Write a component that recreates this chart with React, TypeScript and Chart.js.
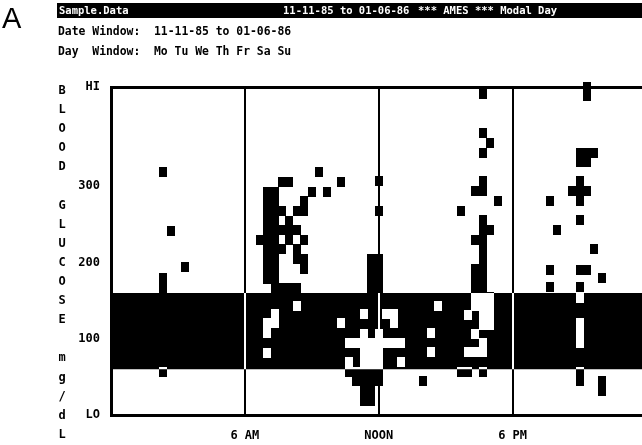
import React, { useEffect, useRef } from "react";
import { Chart, registerables } from "chart.js";

Chart.register(...registerables);

// ---- data ----
const hourTicks = [6, 12, 18];
const hourTickLabels = ["6 AM", "NOON", "6 PM"];
const glucoseTicks = [0, 100, 200, 300, 430];
const glucoseTickLabels = ["LO", "100", "200", "300", "HI"];
const hourMin = 0;
const hourMax = 23.8;
const glucoseMin = 0;
const glucoseMax = 430;

const targetHours = [0, 24];
const targetLow = 60;
const targetHigh = 160;

const axisTitleLetters = ["B", "L", "O", "O", "D", "", "G", "L", "U", "C", "O", "S", "E", "", "m", "g", "/", "d", "L"];

const headerLeft = "Sample.Data";
const headerDates = "11-11-85 to 01-06-86";
const headerRight = "*** AMES *** Modal Day";
const dateWindowLine = "Date Window:  11-11-85 to 01-06-86";
const dayWindowLine = "Day  Window:  Mo Tu We Th Fr Sa Su";

// readings: [hour of day, mg/dL]
const readings: [number, number][] = [
  [2.33, 318], [2.33, 179], [2.33, 167], [2.33, 56],
  [2.67, 241],
  [3.33, 194],
  [6.67, 229],
  [7.0, 292], [7.0, 280], [7.0, 267], [7.0, 254], [7.0, 242], [7.0, 229], [7.0, 217], [7.0, 204], [7.0, 192], [7.0, 178],
  [7.0, 120], [7.0, 107], [7.0, 81],
  [7.33, 292], [7.33, 280], [7.33, 267], [7.33, 254], [7.33, 242], [7.33, 229], [7.33, 217], [7.33, 204], [7.33, 192], [7.33, 178], [7.33, 166],
  [7.33, 132], [7.33, 120],
  [7.67, 305], [7.67, 267], [7.67, 242], [7.67, 217], [7.67, 166],
  [8.0, 305], [8.0, 254], [8.0, 242], [8.0, 229], [8.0, 166],
  [8.33, 267], [8.33, 242], [8.33, 217], [8.33, 204], [8.33, 166], [8.33, 143],
  [8.67, 280], [8.67, 267], [8.67, 229], [8.67, 204], [8.67, 192],
  [9.0, 292],
  [9.33, 318],
  [9.67, 292],
  [10.33, 305], [10.33, 120],
  [10.67, 94], [10.67, 70], [10.67, 56],
  [11.0, 94], [11.0, 56], [11.0, 45],
  [11.33, 132], [11.33, 106], [11.33, 94], [11.33, 82], [11.33, 70], [11.33, 56], [11.33, 45], [11.33, 32], [11.33, 19],
  [11.67, 204], [11.67, 192], [11.67, 178], [11.67, 166], [11.67, 94], [11.67, 82], [11.67, 70], [11.67, 56], [11.67, 45], [11.67, 32], [11.67, 19],
  [12.0, 307], [12.0, 268], [12.0, 204], [12.0, 192], [12.0, 178], [12.0, 166], [12.0, 106], [12.0, 94], [12.0, 82], [12.0, 70], [12.0, 56], [12.0, 45],
  [12.33, 132], [12.33, 94],
  [12.67, 132], [12.67, 120], [12.67, 94],
  [13.0, 94], [13.0, 70],
  [14.0, 45],
  [14.33, 108], [14.33, 83],
  [14.67, 143],
  [15.67, 268], [15.67, 56],
  [16.0, 131], [16.0, 82], [16.0, 56],
  [16.33, 294], [16.33, 230], [16.33, 192], [16.33, 179], [16.33, 166], [16.33, 155], [16.33, 143], [16.33, 106], [16.33, 82],
  [16.67, 421], [16.67, 370], [16.67, 344], [16.67, 307], [16.67, 294], [16.67, 255], [16.67, 242], [16.67, 230], [16.67, 217], [16.67, 204], [16.67, 192], [16.67, 179], [16.67, 166],
  [16.67, 155], [16.67, 143], [16.67, 131], [16.67, 118], [16.67, 94], [16.67, 82], [16.67, 56],
  [17.0, 357], [17.0, 242], [17.0, 155], [17.0, 143], [17.0, 131], [17.0, 118],
  [17.33, 281],
  [19.67, 281], [19.67, 190], [19.67, 168],
  [20.0, 242],
  [20.67, 294],
  [21.0, 344], [21.0, 332], [21.0, 307], [21.0, 294], [21.0, 281], [21.0, 255], [21.0, 190], [21.0, 168],
  [21.0, 154], [21.0, 121], [21.0, 108], [21.0, 95], [21.0, 56], [21.0, 44],
  [21.33, 430], [21.33, 418], [21.33, 344], [21.33, 332], [21.33, 294], [21.33, 190],
  [21.67, 344], [21.67, 218],
  [22.0, 180], [22.0, 44], [22.0, 31],
];

const MONO = '"DejaVu Sans Mono", "Liberation Mono", monospace';

function makeCell(): HTMLCanvasElement {
  const c = document.createElement("canvas");
  c.width = 8;
  c.height = 10;
  const g = c.getContext("2d")!;
  g.fillStyle = "#000";
  g.fillRect(0, 0, 8, 10);
  return c;
}

const invertBandPlugin = {
  id: "invertBand",
  beforeDraw(chart: any) {
    const ctx = chart.ctx;
    ctx.save();
    ctx.fillStyle = "#fff";
    ctx.fillRect(0, 0, chart.width, chart.height);
    ctx.restore();
  },
  afterDatasetDraw(chart: any, args: any) {
    if (args.index === 0) {
      chart.ctx.save();
      chart.ctx.globalCompositeOperation = "difference";
      (chart as any).$bandBlend = true;
    }
  },
  afterDatasetsDraw(chart: any) {
    if ((chart as any).$bandBlend) {
      chart.ctx.restore();
      (chart as any).$bandBlend = false;
    }
  },
};

function GlucoseChart() {
  const ref = useRef<HTMLCanvasElement | null>(null);
  useEffect(() => {
    if (!ref.current) return;
    const cell = makeCell();
    const tickFont = { family: MONO, size: 12, weight: "bold" as const };
    const chart = new Chart(ref.current, {
      type: "scatter",
      data: {
        datasets: [
          {
            type: "scatter",
            data: readings.map(([h, v]) => ({ x: h, y: v })),
            pointStyle: cell as any,
            pointRadius: 5,
            backgroundColor: "#000",
            borderColor: "#000",
            order: 2,
            clip: false as any,
          },
          {
            type: "line",
            data: targetHours.map((h) => ({ x: h, y: targetHigh })),
            fill: { value: targetLow },
            backgroundColor: "#fff",
            borderColor: "rgba(0,0,0,0)",
            borderWidth: 0,
            pointRadius: 0,
            order: 1,
          } as any,
        ],
      },
      options: {
        animation: false,
        responsive: false,
        maintainAspectRatio: false,
        layout: { autoPadding: false, padding: { top: 87, left: 0, right: 0, bottom: 0 } },
        plugins: { legend: { display: false }, tooltip: { enabled: false } },
        events: [],
        scales: {
          x: {
            type: "linear",
            position: "bottom",
            min: hourMin,
            max: hourMax,
            afterBuildTicks: (s: any) => {
              s.ticks = hourTicks.map((v) => ({ value: v }));
            },
            afterFit: (s: any) => {
              s.height = 30;
            },
            grid: { color: "#000", lineWidth: 2, drawTicks: false },
            border: { display: true, color: "#000", width: 3, z: 1 },
            ticks: {
              color: "#000",
              font: tickFont,
              padding: 14,
              maxRotation: 0,
              autoSkip: false,
              callback: (v: any) => hourTickLabels[hourTicks.indexOf(Number(v))] ?? "",
            },
          },
          x2: {
            type: "linear",
            position: "top",
            min: hourMin,
            max: hourMax,
            grid: { display: false, drawTicks: false },
            ticks: { display: false },
            border: { display: true, color: "#000", width: 3, z: 1 },
            afterFit: (s: any) => {
              s.height = 0;
            },
          },
          y: {
            type: "linear",
            min: glucoseMin,
            max: glucoseMax,
            afterBuildTicks: (s: any) => {
              s.ticks = glucoseTicks.map((v) => ({ value: v }));
            },
            afterFit: (s: any) => {
              s.width = 111;
            },
            grid: { display: false, drawTicks: false },
            border: { display: true, color: "#000", width: 3, z: 1 },
            ticks: {
              color: "#000",
              font: tickFont,
              padding: 11,
              autoSkip: false,
              callback: (v: any) => glucoseTickLabels[glucoseTicks.indexOf(Number(v))] ?? "",
            },
          },
        },
      } as any,
      plugins: [invertBandPlugin],
    });
    return () => chart.destroy();
  }, []);
  return <canvas ref={ref} width={642} height={445} style={{ position: "absolute", left: 0, top: 0, width: 642, height: 445 }} />;
}

export default function App() {
  const mono: React.CSSProperties = {
    position: "absolute",
    fontFamily: MONO,
    fontWeight: "bold",
    fontSize: 11.4,
    lineHeight: "12px",
    whiteSpace: "pre",
    color: "#000",
  };
  const bar: React.CSSProperties = { ...mono, fontSize: 10.5, color: "#fff", top: 4 };
  return (
    <div style={{ position: "fixed", left: 0, top: 0, width: 642, height: 445, background: "#fff", overflow: "hidden" }}>
      <GlucoseChart />
      <div style={{ position: "absolute", left: 2, top: 3, fontFamily: '"Liberation Sans", Arial, sans-serif', fontSize: 29, lineHeight: "30px", color: "#000" }}>A</div>
      <div style={{ position: "absolute", left: 57, top: 3, width: 585, height: 15, background: "#000" }} />
      <div style={{ ...bar, left: 59 }}>{headerLeft}</div>
      <div style={{ ...bar, left: 283 }}>{headerDates}</div>
      <div style={{ ...bar, left: 418 }}>{headerRight}</div>
      <div style={{ ...mono, left: 58, top: 25 }}>{dateWindowLine}</div>
      <div style={{ ...mono, left: 58, top: 45 }}>{dayWindowLine}</div>
      {axisTitleLetters.map((ch, i) => (
        <div key={i} style={{ ...mono, fontSize: 12, left: 56, width: 12, textAlign: "center", top: 84 + i * 19.1 }}>{ch}</div>
      ))}
    </div>
  );
}
